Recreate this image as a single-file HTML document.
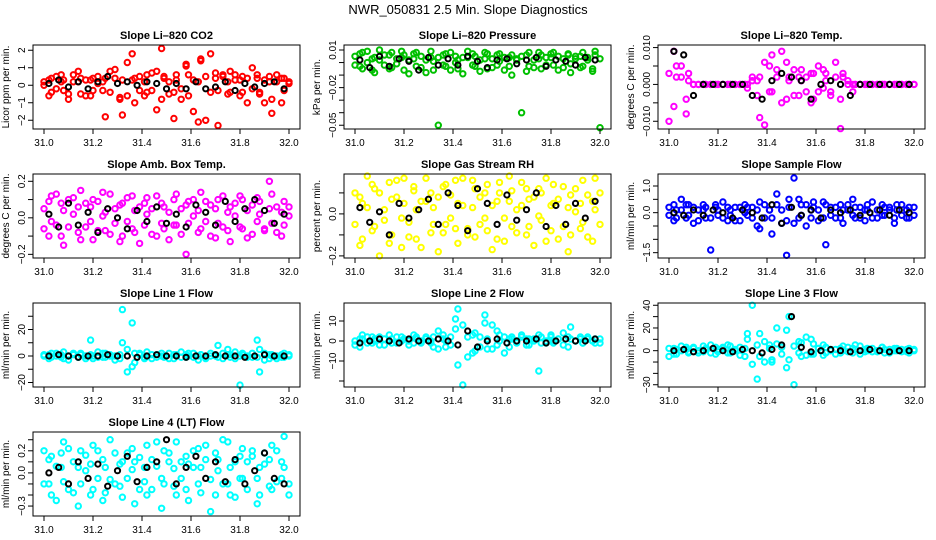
<!DOCTYPE html>
<html><head><meta charset="utf-8"><style>
body{margin:0;background:#fff;}
svg{display:block;font-family:"Liberation Sans",sans-serif;}
</style></head><body>
<svg id="fig" width="936" height="540" viewBox="0 0 936 540">
<text x="468" y="14" text-anchor="middle" font-size="13">NWR_050831  2.5 Min. Slope Diagnostics</text>
</svg>
<script>
const times=[31.00,31.02,31.03,31.05,31.07,31.08,31.10,31.12,31.14,31.15,31.17,31.19,31.20,31.22,31.24,31.25,31.27,31.29,31.31,31.32,31.34,31.36,31.37,31.39,31.41,31.42,31.44,31.46,31.48,31.49,31.51,31.53,31.54,31.56,31.58,31.59,31.61,31.63,31.64,31.66,31.68,31.70,31.71,31.73,31.75,31.76,31.78,31.80,31.81,31.83,31.85,31.87,31.88,31.90,31.92,31.93,31.95,31.97,31.98,32.00];
const blackTimes=[31.02,31.06,31.10,31.14,31.18,31.22,31.26,31.30,31.34,31.38,31.42,31.46,31.50,31.54,31.58,31.62,31.66,31.70,31.74,31.78,31.82,31.86,31.90,31.94,31.98];
const xTicks=[31.0,31.2,31.4,31.6,31.8,32.0];

const co2A=[0,0.3,-0.4,0.5,0.2,-0.3,-0.8,0.6,0.2,-0.5,0.3,-0.6,0.4,0.1,-0.3,-1.8,0.8,0.4,-0.7,-1.7,1.3,0.3,-1.0,0.5,0.2,-0.4,0.7,-1.4,2.1,0.4,-0.5,-1.9,0.3,-0.2,1.1,0.6,-1.5,0.2,1.5,-2.0,1.8,0.4,-2.3,0.6,-0.5,0.8,0.3,-0.6,0.5,-1.0,1.0,0.4,-0.5,-1.0,0.2,-1.6,0.6,-1.0,0.4,0.2];
const co2B=[0.2,-0.6,0.4,-0.2,0.6,0.3,-0.5,0.2,0.8,0.4,-0.6,0.3,-0.3,0.5,0.2,0.4,-0.4,0.9,-0.8,0.3,-0.6,1.8,0.4,-0.3,-0.6,0.6,-0.3,0.8,-0.8,0.5,0.2,-0.4,0.6,-0.8,1.2,-0.6,0.3,-2.1,1.4,0.5,-0.4,0.7,-0.3,0.5,0.2,-0.4,0.6,0.3,-0.4,0.4,-0.2,0.6,-0.4,0.3,0.5,-0.8,0.2,0.4,-0.3,0.1];
const co2K=[0.1,0.3,-0.1,0.2,-0.2,0.2,0.5,0.1,0.2,0,0.2,0.1,-0.2,0.1,-0.2,0.2,-0.2,-0.1,0.2,-0.3,0.1,-0.1,0.1,0.2,-0.2];

const presA=[0.005,-0.003,0.008,0,-0.006,0.004,0.01,-0.002,0.006,-0.004,0.003,0.009,-0.006,0.002,0.007,-0.003,0.005,-0.008,0.004,0.001,-0.05,0.006,-0.003,0.008,0,-0.005,0.004,0.009,-0.002,0.005,-0.007,0.003,0.007,-0.004,0.006,0.001,-0.006,0.004,-0.01,0.003,-0.04,0.006,-0.003,0.002,0.008,-0.005,0.004,0.007,-0.002,0.005,-0.004,0.006,-0.008,0.003,0.005,-0.003,0.004,-0.007,0.006,-0.052];
const presB=[-0.002,0.007,-0.005,0.009,0.003,-0.008,0.002,0.006,-0.005,0.008,-0.001,0.004,0.006,-0.009,0.003,0.008,-0.004,0.002,0.009,-0.006,0.004,-0.002,0.007,-0.006,0.005,0.002,-0.009,0.004,0.007,-0.003,0.002,0.008,-0.005,0.003,-0.002,0.007,0.004,-0.003,0.006,0.002,0.005,-0.007,0.008,-0.004,0.003,0.006,-0.002,0.004,0.008,-0.006,0.003,0.007,-0.001,0.005,-0.004,0.008,0.002,-0.005,0.009,0.003];
const presK=[0.002,-0.004,0.005,-0.003,0.003,0.001,-0.006,0.004,-0.002,0.003,-0.002,0.005,0.001,-0.004,0.002,0.003,-0.001,0.002,0.004,-0.003,0.002,0.001,-0.002,0.004,0.002];

const tempA=[-0.010,0.009,0.002,0.005,-0.004,0.001,0,0,0,0,0,0,0,0,0,0,0,0,0,0,0.001,-0.003,0.002,-0.011,0.005,-0.002,0.004,0.009,-0.004,0.002,0.004,-0.003,0.001,0.002,-0.005,0.003,-0.002,0.004,0.001,-0.003,0.002,-0.012,0.003,0.001,-0.002,0,0,0,0,0,0,0,0,0,0,0,0,0,0,0];
const tempB=[0.003,-0.006,0.005,0.002,-0.008,0.003,0,0,0,0,0,0,0,0,0,0,0,0,0,-0.001,0.002,0.001,-0.009,0.006,-0.002,0.008,0.002,-0.005,0.006,0.001,-0.003,0.002,0.004,-0.002,0.003,-0.004,0.005,-0.001,0.003,-0.002,0.006,-0.004,0.002,0,0,0,0,0,0,0,0,0,0,0,0,0,0,0,0,0];
const tempK=[0.009,0.008,-0.003,0,0,0,0,0,-0.003,-0.004,0.001,0.003,0.002,0.001,-0.004,0,0.001,0,-0.003,0,0,0,0,0,0];

const ambA=[0.05,-0.1,0.12,-0.04,0.08,-0.15,0.1,0.02,-0.08,0.15,-0.05,0.06,-0.12,0.09,0.01,-0.07,0.13,-0.03,0.07,-0.1,0.11,-0.06,0.04,-0.14,0.08,0.02,-0.09,0.12,-0.03,0.06,-0.12,0.1,-0.04,0.05,-0.2,0.09,0.01,-0.08,0.14,-0.02,0.07,-0.11,0.1,-0.05,0.03,-0.13,0.08,0.12,-0.06,0.04,-0.09,0.11,0.02,-0.07,0.2,-0.03,0.06,-0.1,0.09,0.01];
const ambB=[-0.06,0.09,-0.02,0.13,-0.1,0.04,-0.05,0.11,0.06,-0.12,0.08,-0.02,0.1,-0.07,0.14,0.03,-0.09,0.05,-0.13,0.08,-0.02,0.12,-0.08,0.06,-0.04,0.11,0.05,-0.1,0.08,-0.06,0.03,-0.04,0.13,-0.09,0.07,-0.03,0.1,0.04,-0.06,0.09,-0.1,0.05,-0.03,0.12,-0.07,0.06,0.01,-0.05,0.1,-0.11,0.07,-0.02,0.09,-0.06,0.05,0.13,-0.08,0.03,-0.04,0.06];
const ambK=[0.02,-0.05,0.08,-0.04,0.03,-0.08,0.05,0,-0.06,0.04,-0.02,0.06,-0.03,0.02,-0.05,0.07,0.03,-0.04,0.09,-0.02,0.05,0.1,0.04,-0.03,0.02];

const rhA=[0.1,-0.15,0.05,0.18,-0.08,0.12,-0.2,0.02,0.15,-0.1,0.08,-0.16,0.17,-0.04,0.11,-0.12,0.06,0.17,-0.09,0.03,-0.18,0.13,-0.05,0.09,0.16,-0.14,0.04,-0.07,0.16,-0.11,0.08,-0.02,0.14,-0.17,0.06,0.1,-0.13,0.18,-0.06,0.02,0.15,-0.1,0.07,-0.15,0.12,-0.03,0.17,-0.08,0.05,-0.12,0.13,-0.18,0.09,0.01,-0.07,0.16,-0.11,0.06,0.17,-0.05];
const rhB=[-0.05,0.08,-0.12,0.03,0.14,-0.06,0.1,-0.03,-0.14,0.07,0.16,-0.02,0.05,-0.11,0.13,0.02,-0.16,0.06,0.1,-0.05,0.08,-0.09,0.14,-0.02,-0.07,0.05,0.17,-0.1,0.03,0.12,-0.05,0.1,-0.08,0.04,-0.12,0.15,-0.02,0.06,0.11,-0.09,0.04,0.12,-0.06,0.08,-0.01,0.1,-0.13,0.04,0.14,0.07,-0.06,0.03,-0.1,0.12,0.05,-0.04,0.09,-0.13,0.02,0.1];
const rhK=[0.03,-0.04,0.01,-0.1,0.05,-0.02,0.02,0.07,-0.05,0.1,0.04,-0.08,0.12,0.05,-0.05,0.09,-0.03,0.02,0.1,-0.06,0.04,-0.05,0.05,-0.02,0.06];

const flowA=[0.2,-0.3,0.1,0.5,-0.2,0.3,-0.4,0.1,0.3,-0.2,-1.4,0.2,-0.1,0.4,-0.3,0.1,0.2,-0.3,0.3,-0.1,0.2,-0.5,0.4,-0.2,0.1,-0.8,0.3,-0.4,-1.6,0.5,1.3,-0.2,0.3,-0.5,0.1,0.2,-0.3,0.4,-1.2,0.2,-0.2,0.3,-0.4,0.1,0.5,-0.2,0.2,-0.3,0.1,0.4,-0.2,0.3,-0.1,0.2,-0.4,0.1,0.3,-0.2,0.2,-0.1];
const flowB=[-0.1,0.3,-0.2,0.1,0.3,-0.1,0.2,-0.3,0.1,0.2,-0.2,0.3,0.1,-0.2,0.2,-0.1,-0.3,0.2,0,0.2,-0.2,0.1,-0.6,0.3,0.1,-0.2,0.7,0.1,-0.3,0.2,-0.4,0.5,-0.1,0.3,-0.2,0.4,0.1,-0.2,0.3,-0.1,0.2,-0.2,0.1,0.3,-0.1,0.2,-0.2,0.1,0.3,-0.2,0.1,-0.1,0.2,0.1,-0.2,0.3,-0.1,0.1,-0.2,0.2];
const flowK=[0,-0.1,0.1,-0.1,0.1,0,-0.2,0.1,0,-0.2,0.3,-0.4,0.2,-0.1,0.1,-0.2,0.1,0,0.1,-0.1,0,0.1,-0.1,0.1,0];

const l1A=[1,-2,2,0,-1,3,-3,1,-1,2,0,12,-2,3,-1,2,0,-3,1,35,-12,25,-5,2,-1,3,-2,1,0,-1,2,-2,1,3,-1,0,2,-3,1,-1,2,0,8,-2,1,-1,3,-22,2,0,-1,12,-12,2,-2,1,0,-1,2,0];
const l1B=[0,1,-1,2,1,-2,0,2,-1,1,-2,1,0,-1,2,-1,1,0,-2,10,5,-8,2,1,-2,0,1,-1,2,0,-2,1,0,-1,1,2,-1,0,1,-2,0,1,-1,2,5,1,-2,0,1,-1,2,-1,5,-3,1,0,-2,1,-1,1];
const l1K=[0,1,0,-1,0,0,1,0,0,-1,0,1,0,0,-1,0,0,1,0,0,-1,0,1,0,0];

const l2A=[-2,1,3,-1,2,0,-2,1,3,-1,2,0,1,-2,3,1,-1,2,0,-3,5,1,-3,2,11,16,-22,-8,3,-5,2,13,-4,8,-2,3,-6,1,2,0,3,-2,1,0,-15,2,-1,3,0,1,-2,2,7,0,1,-1,2,0,1,-1];
const l2B=[0,-3,1,2,-1,1,2,-2,0,1,-1,2,1,0,-1,2,0,1,-1,2,-4,3,0,-2,6,-12,8,2,-6,4,-3,9,1,-4,5,0,2,-3,1,-1,2,1,-2,1,3,-1,0,2,-1,1,4,-3,1,0,2,-1,1,0,-1,1];
const l2K=[-1,0,1,0,-1,1,0,0,1,0,-2,5,-3,0,1,-1,0,0,1,-1,0,1,0,0,1];

const l3A=[-5,2,-3,4,1,-2,3,0,-1,2,5,-3,1,3,-2,4,0,-4,2,10,40,-25,15,-10,5,-8,20,3,-15,30,-30,8,-5,12,-3,6,2,-4,3,0,1,-2,4,-1,2,5,-3,1,0,2,-1,3,-2,1,0,2,-1,1,-2,1];
const l3B=[2,-3,1,0,3,-1,2,-2,4,1,-2,3,-1,2,5,-2,1,3,-5,15,-12,5,-5,8,2,-10,6,-3,18,-8,4,-2,7,-4,10,-3,2,5,-2,1,-3,2,0,3,-2,1,4,-1,2,-1,0,3,1,-2,2,0,1,-1,2,0];
const l3K=[0,1,-1,0,2,0,-1,1,0,-2,1,5,30,3,-1,0,1,0,-1,0,1,0,-1,0,0];

const l4A=[0.2,-0.1,0.15,-0.25,0.05,0.28,-0.15,0.1,-0.3,0.2,0.02,-0.2,0.25,-0.05,0.12,-0.18,0.3,-0.1,0.08,-0.22,0.18,0.03,-0.28,0.14,-0.08,0.25,-0.15,0.06,-0.32,0.2,0.1,-0.12,0.28,-0.05,0.15,-0.25,0.05,0.22,-0.18,0.12,-0.35,0.18,0.02,-0.1,0.28,-0.2,0.1,-0.05,0.22,-0.15,0.15,-0.28,0.05,0.18,-0.12,0.25,-0.08,0.1,0.33,-0.2];
const l4B=[-0.1,0.12,-0.2,0.06,0.18,-0.08,0.22,-0.18,0.05,-0.1,0.16,0.08,-0.15,0.2,-0.25,0.05,-0.06,0.18,-0.12,0.1,-0.05,0.22,0.1,-0.15,0.05,-0.2,0.12,0.28,-0.05,-0.1,0.18,0.04,-0.2,0.1,-0.15,0.08,0.2,-0.1,0.05,0.25,-0.06,-0.2,0.12,0.3,-0.1,0.05,-0.22,0.15,-0.05,0.1,0.2,-0.05,-0.2,0.08,0.12,-0.15,0.2,-0.05,0.05,-0.1];
const l4K=[0,0.05,-0.1,0.1,-0.05,0.08,-0.12,0.02,0.15,-0.08,0.05,0.1,0.3,-0.1,0.05,0.15,-0.05,0.1,-0.08,0.12,-0.1,0.02,0.18,-0.05,-0.1];

const NS='http://www.w3.org/2000/svg';
const fig=document.getElementById('fig');
function mk(tag,attrs,parent){const e=document.createElementNS(NS,tag);for(const k in attrs)e.setAttribute(k,attrs[k]);(parent||fig).appendChild(e);return e;}

const panels=[
 {title:'Slope Li\u2013820 CO2',ylab:'Licor ppm per min.',col:'#ff0000',a:co2A,b:co2B,k:co2K,ymin:-2.5,ymax:2.3,ticks:[-2,-1,0,1,2],labels:['\u22122','\u22121','0','1','2']},
 {title:'Slope Li\u2013820 Pressure',ylab:'kPa per min.',col:'#00c000',a:presA,b:presB,k:presK,ymin:-0.053,ymax:0.014,ticks:[-0.05,-0.04,-0.03,-0.02,-0.01,0,0.01],labels:['\u22120.05','','','\u22120.02','','','0.01']},
 {title:'Slope Li\u2013820 Temp.',ylab:'degrees C per min.',col:'#ff00ff',a:tempA,b:tempB,k:tempK,ymin:-0.0121,ymax:0.0107,ticks:[-0.01,-0.005,0,0.005,0.01],labels:['\u22120.010','','0.000','','0.010']},
 {title:'Slope Amb. Box Temp.',ylab:'degrees C per min.',col:'#ff00ff',a:ambA,b:ambB,k:ambK,ymin:-0.22,ymax:0.24,ticks:[-0.2,-0.1,0,0.1,0.2],labels:['\u22120.2','','0.0','','0.2']},
 {title:'Slope Gas Stream RH',ylab:'percent per min.',col:'#ffff00',a:rhA,b:rhB,k:rhK,ymin:-0.21,ymax:0.19,ticks:[-0.2,-0.1,0,0.1],labels:['\u22120.2','','0.0','']},
 {title:'Slope Sample Flow',ylab:'ml/min per min.',col:'#0000ff',a:flowA,b:flowB,k:flowK,ymin:-1.7,ymax:1.45,ticks:[-1.5,-1,-0.5,0,0.5,1],labels:['\u22121.5','','','0.0','','1.0']},
 {title:'Slope Line 1 Flow',ylab:'ml/min per min.',col:'#00ffff',a:l1A,b:l1B,k:l1K,ymin:-23.4,ymax:40,ticks:[-20,-10,0,10,20,30],labels:['\u221220','','0','','20','']},
 {title:'Slope Line 2 Flow',ylab:'ml/min per min.',col:'#00ffff',a:l2A,b:l2B,k:l2K,ymin:-23,ymax:19,ticks:[-20,-10,0,10],labels:['','\u221210','0','10']},
 {title:'Slope Line 3 Flow',ylab:'ml/min per min.',col:'#00ffff',a:l3A,b:l3B,k:l3K,ymin:-32,ymax:42,ticks:[-30,-20,-10,0,10,20,30,40],labels:['\u221230','','','0','','20','','40']},
 {title:'Slope Line 4 (LT) Flow',ylab:'ml/min per min.',col:'#00ffff',a:l4A,b:l4B,k:l4K,ymin:-0.39,ymax:0.37,ticks:[-0.3,-0.2,-0.1,0,0.1,0.2,0.3],labels:['\u22120.3','','','0.0','','0.2','']}
];
const colLeft=[33,344,658], rowTop=[45,174,303,432], W=267, H=84;

panels.forEach((p,i)=>{
  const L=colLeft[i%3], T=rowTop[Math.floor(i/3)];
  const g=mk('g',{});
  
  
  const xs=v=>L+11+(v-31)*(W-22);
  const ys=v=>T+H-(v-p.ymin)/(p.ymax-p.ymin)*H;
  const t=mk('text',{x:L+W/2,y:T-6,'text-anchor':'middle','font-size':11,'font-weight':'bold'},g);
  t.textContent=p.title;
  
  
  const yt=mk('text',{x:0,y:0,'text-anchor':'middle','font-size':10,transform:`translate(${L-24},${T+H/2}) rotate(-90)`},g);
  yt.textContent=p.ylab;
  
  
  const drawPts=(arr,tt,color,r,sw,name)=>{arr.forEach((v,j)=>{
    const c=mk('circle',{cx:xs(tt[j]).toFixed(1),cy:ys(v).toFixed(1),r:r,fill:'none',stroke:color,'stroke-width':sw},g);
    
    
  });};
  drawPts(p.a,times,p.col,2.7,2,'data-point');
  drawPts(p.b,times,p.col,2.7,2,'data-point');
  drawPts(p.k,blackTimes,'#000',2.6,2,'reference-point');
  const box=mk('rect',{x:L,y:T,width:W,height:H,fill:'none',stroke:'#000','stroke-width':1},g);
  
  
  xTicks.forEach(v=>{
    const x=xs(v);
    mk('line',{x1:x,y1:T+H,x2:x,y2:T+H+5,stroke:'#000'},g);
    const tl=mk('text',{x:x,y:T+H+17,'text-anchor':'middle','font-size':10},g);
    tl.textContent=v.toFixed(1);
    
    
  });
  p.ticks.forEach((v,j)=>{
    const y=ys(v);
    mk('line',{x1:L,y1:y,x2:L-5,y2:y,stroke:'#000'},g);
    if(p.labels[j]){
      const tl=mk('text',{x:0,y:0,'text-anchor':'middle','font-size':10,transform:`translate(${L-8},${y}) rotate(-90)`},g);
      tl.textContent=p.labels[j];
      
      
    }
  });
});
</script>
</body></html>
